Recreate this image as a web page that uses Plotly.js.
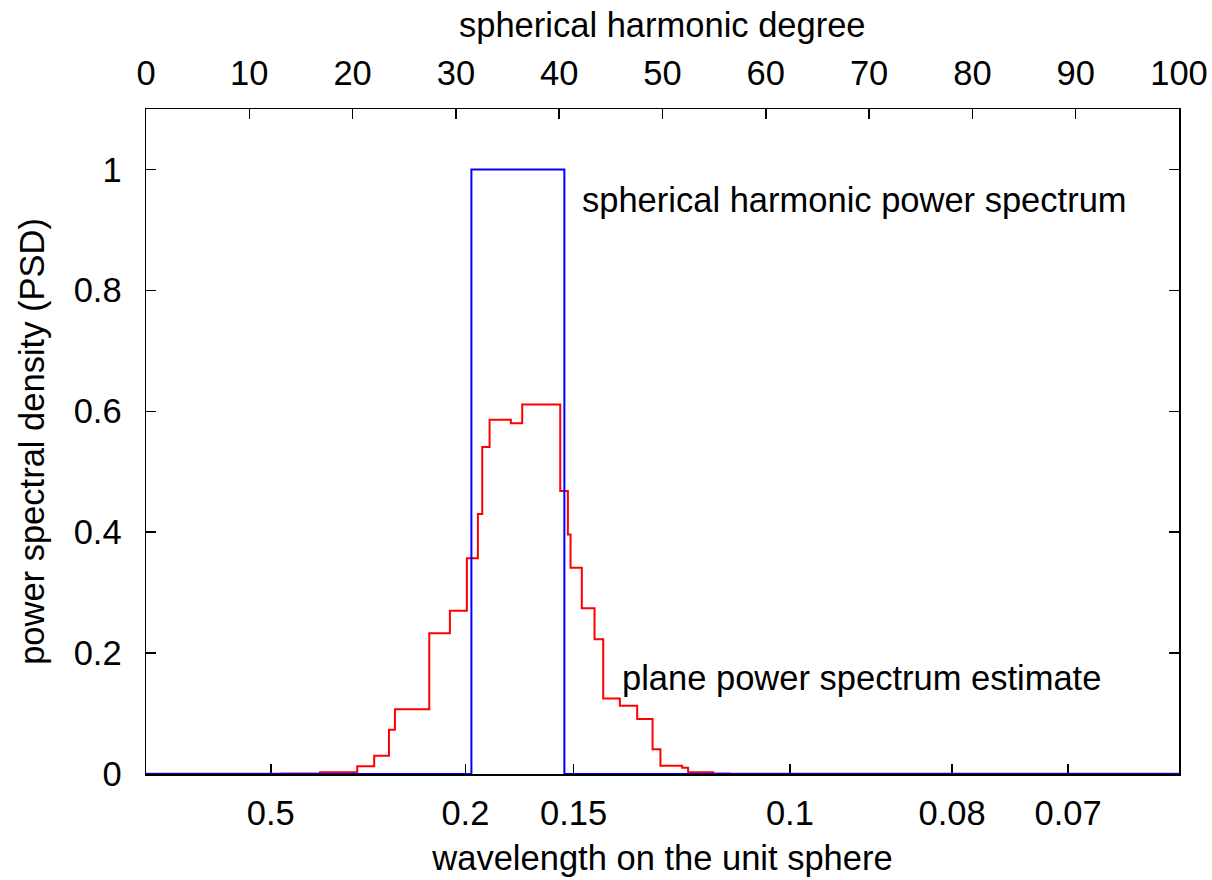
<!DOCTYPE html>
<html>
<head>
<meta charset="utf-8">
<script src="https://cdn.plot.ly/plotly-3.0.1.min.js"></script>
<style>
  html, body { margin: 0; padding: 0; background: #ffffff; }
  #chart { width: 1212px; height: 880px; }
</style>
</head>
<body>
<div id="chart"></div>
<script>
// Spherical harmonic power spectrum: unit power on a band of degrees
const shDegree = [0, 31, 32, 33, 34, 35, 36, 37, 38, 39, 40, 41, 100];
const shPower  = [0, 0, 1, 1, 1, 1, 1, 1, 1, 1, 1, 0, 0];

// Plane power spectrum estimate: each step starts at the given degree
const planeStepStart = [0, 13.13, 15.2, 16.85, 20.45, 22.09, 23.52, 24.10, 27.42, 29.42,
  31.06, 32.13, 32.55, 33.26, 35.32, 36.42, 40.10, 40.84, 41.10, 42.19, 43.42,
  44.26, 45.87, 47.55, 49.04, 49.8, 51.9, 52.48, 54.9, 56.5];
const planePSD = [0.0003, 0.0007, 0.001, 0.003, 0.013, 0.030, 0.073, 0.107, 0.233, 0.270,
  0.357, 0.430, 0.541, 0.586, 0.580, 0.611, 0.468, 0.396, 0.341, 0.274, 0.223,
  0.125, 0.113, 0.091, 0.041, 0.0137, 0.0104, 0.0028, 0.001, 0.0005];

// Wavelength tick labels on the bottom axis
const wavelengthTicks = [0.5, 0.2, 0.15, 0.1, 0.08, 0.07];
const wavelengthText  = ['0.5', '0.2', '0.15', '0.1', '0.08', '0.07'];

// Wavelength on the unit sphere -> degree, via sqrt(l(l+1)) = 2*pi / wavelength
function degreeFromWavelength(w) {
  const k = 2 * Math.PI / w;
  return (-1 + Math.sqrt(1 + 4 * k * k)) / 2;
}

const DEG_MAX = 100;
const FONT = 'Liberation Sans, Arial, sans-serif';
const FS = 34.5;
const textFont = { family: FONT, size: FS, color: '#000000' };

const planeX = planeStepStart.concat([DEG_MAX]);
const planeY = planePSD.concat([planePSD[planePSD.length - 1]]);

const traces = [
  {
    x: shDegree, y: shPower, xaxis: 'x2', yaxis: 'y',
    type: 'scatter', mode: 'lines',
    line: { color: '#0000ff', width: 2, shape: 'hvh' },
    hoverinfo: 'skip', showlegend: false
  },
  {
    x: planeX, y: planeY, xaxis: 'x', yaxis: 'y',
    type: 'scatter', mode: 'lines',
    line: { color: '#ff0000', width: 2, shape: 'hv' },
    hoverinfo: 'skip', showlegend: false
  }
];

const axisCommon = {
  showgrid: false, zeroline: false,
  showline: true, linecolor: '#000000', linewidth: 1.5,
  ticks: 'inside', ticklen: 10, tickwidth: 1.5, tickcolor: '#000000',
  tickfont: textFont,
  layer: 'below traces'
};

const layout = {
  width: 1212, height: 880,
  margin: { l: 146, r: 33, t: 109, b: 106, pad: 0 },
  paper_bgcolor: '#ffffff', plot_bgcolor: '#ffffff',
  font: textFont,
  showlegend: false,
  xaxis: Object.assign({}, axisCommon, {
    range: [0, DEG_MAX], fixedrange: true,
    tickmode: 'array',
    tickvals: wavelengthTicks.map(degreeFromWavelength),
    ticktext: wavelengthText,
    ticklabelstandoff: 8,
    title: { text: 'wavelength on the unit sphere', font: textFont, standoff: 15 }
  }),
  xaxis2: Object.assign({}, axisCommon, {
    range: [0, DEG_MAX], fixedrange: true,
    overlaying: 'x', side: 'top', anchor: 'y',
    tickmode: 'linear', tick0: 0, dtick: 10,
    ticklabelstandoff: 9
  }),
  yaxis: Object.assign({}, axisCommon, {
    range: [0, 1.1], fixedrange: true,
    tickmode: 'linear', tick0: 0, dtick: 0.2,
    mirror: 'ticks',
    ticklabelstandoff: 16,
    title: { text: 'power spectral density (PSD)', font: textFont, standoff: 18 }
  }),
  annotations: [
    {
      // title of the top (degree) axis
      text: 'spherical harmonic degree', xref: 'paper', yref: 'paper',
      x: 0.5, y: 1.126, xanchor: 'center', yanchor: 'middle', showarrow: false,
      font: textFont
    },
    {
      text: 'spherical harmonic power spectrum', xref: 'x', yref: 'y',
      x: 42.0, y: 0.95, xanchor: 'left', yanchor: 'middle', showarrow: false,
      font: textFont
    },
    {
      text: 'plane power spectrum estimate', xref: 'x', yref: 'y',
      x: 45.9, y: 0.159, xanchor: 'left', yanchor: 'middle', showarrow: false,
      font: textFont
    }
  ]
};

Plotly.newPlot('chart', traces, layout, { staticPlot: true, displayModeBar: false });
</script>
</body>
</html>
